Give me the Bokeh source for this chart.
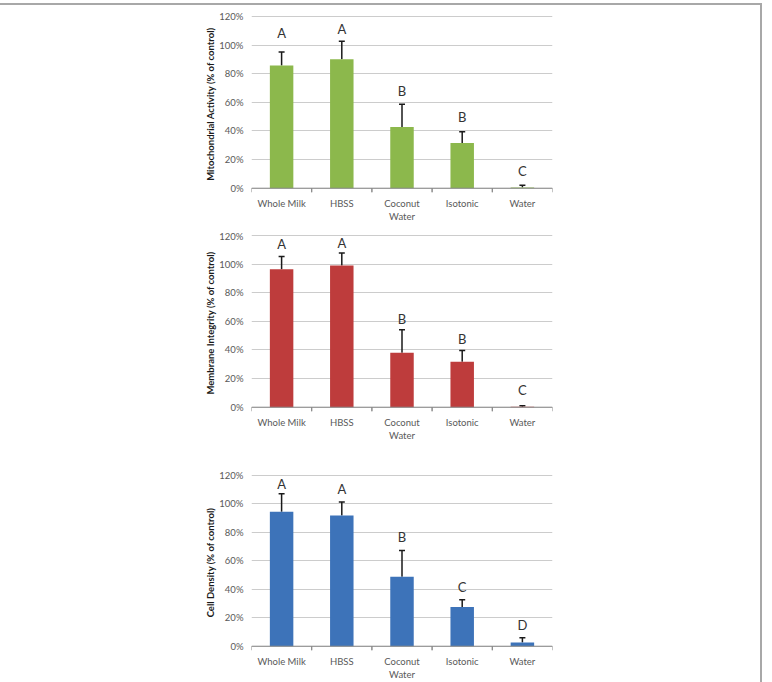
from bokeh.plotting import figure
from bokeh.layouts import column
from bokeh.models import (ColumnDataSource, FixedTicker, PrintfTickFormatter, Range1d,
                          Span, Whisker, TeeHead)
from bokeh.transform import dodge
from bokeh.core.properties import value
from bokeh.embed import file_html
from bokeh.resources import INLINE

categories = ["Whole Milk", "HBSS", "Coconut\nWater", "Isotonic", "Water"]
y_ticks = [0, 20, 40, 60, 80, 100, 120]

# Panel 1: Mitochondrial Activity
mito_mean = [85.6, 90.0, 42.7, 31.6, 0.5]
mito_err = [9.5, 12.7, 15.9, 7.9, 1.5]
mito_letters = ["A", "A", "B", "B", "C"]
mito_letter_y = [108.5, 111.3, 67.9, 50.0, 12.0]

# Panel 2: Membrane Integrity
memb_mean = [96.4, 98.9, 38.0, 31.8, 0.3]
memb_err = [8.8, 8.8, 16.0, 7.8, 0.7]
memb_letters = ["A", "A", "B", "B", "C"]
memb_letter_y = [114.2, 114.7, 61.6, 47.5, 12.3]

# Panel 3: Cell Density
dens_mean = [94.5, 91.8, 48.8, 27.5, 2.6]
dens_err = [12.5, 9.5, 18.5, 5.1, 3.4]
dens_letters = ["A", "A", "B", "C", "D"]
dens_letter_y = [113.8, 110.5, 76.5, 41.4, 14.8]

FONT = "Lato"
AXIS_GRAY = "#8a8a8a"


def make_panel(mean, err, letters, letter_y, color, ylabel, height, top, bottom):
    src = ColumnDataSource(dict(
        cat=categories, mean=mean,
        upper=[m + e for m, e in zip(mean, err)],
        letter=letters, ly=letter_y,
        zero=[0] * len(categories), tick=[-3] * len(categories),
    ))
    p = figure(x_range=categories, y_range=Range1d(-3, 120.6), width=760, height=height,
               output_backend="svg", toolbar_location=None,
               min_border_left=251, min_border_right=208,
               min_border_top=top, min_border_bottom=bottom)
    p.outline_line_color = None
    p.background_fill_color = "white"
    p.border_fill_color = "white"

    p.vbar(x="cat", top="mean", bottom=0, width=0.39, source=src,
           fill_color=color, line_color=None)

    w = Whisker(base="cat", upper="upper", lower="mean", source=src,
                line_color="#1a1a1a", line_width=1.5,
                upper_head=TeeHead(size=6, line_color="#1a1a1a", line_width=1.5),
                lower_head=None)
    p.add_layout(w)

    # category separator ticks below the x axis line
    p.segment(x0=dodge("cat", -0.5, range=p.x_range), y0="zero",
              x1=dodge("cat", -0.5, range=p.x_range), y1="tick",
              source=src, line_color=AXIS_GRAY, line_width=1)
    p.segment(x0=dodge("cat", 0.5, range=p.x_range), y0="zero",
              x1=dodge("cat", 0.5, range=p.x_range), y1="tick",
              source=src, line_color=AXIS_GRAY, line_width=1)

    p.text(x="cat", y="ly", text="letter", source=src, text_align="center",
           text_baseline="middle", text_font=value(FONT), text_font_size="13px",
           text_color="#333333")

    p.add_layout(Span(location=0, dimension="width", line_color=AXIS_GRAY, line_width=1))

    # y axis
    ya = p.yaxis[0]
    ya.ticker = FixedTicker(ticks=y_ticks)
    ya.formatter = PrintfTickFormatter(format="%d%%")
    ya.axis_line_color = None
    ya.major_tick_line_color = None
    ya.minor_tick_line_color = None
    ya.major_tick_out = 0
    ya.major_tick_in = 0
    ya.major_label_standoff = 8
    ya.major_label_text_font = FONT
    ya.major_label_text_font_size = "9.5px"
    ya.major_label_text_color = "#595959"
    ya.axis_label = ylabel
    ya.axis_label_text_font = FONT
    ya.axis_label_text_font_style = "bold"
    ya.axis_label_text_font_size = "9.5px"
    ya.axis_label_text_color = "#1a1a1a"
    ya.axis_label_standoff = 0

    # x axis
    xa = p.xaxis[0]
    xa.axis_line_color = None
    xa.major_tick_line_color = None
    xa.minor_tick_line_color = None
    xa.major_tick_out = 0
    xa.major_tick_in = 0
    xa.major_label_standoff = 5
    xa.major_label_text_font = FONT
    xa.major_label_text_font_size = "9.5px"
    xa.major_label_text_color = "#595959"
    xa.major_label_orientation = "horizontal"

    p.xgrid.grid_line_color = None
    p.ygrid.ticker = FixedTicker(ticks=y_ticks)
    p.ygrid.grid_line_color = "#cccccc"
    p.ygrid.grid_line_width = 1
    return p


p1 = make_panel(mito_mean, mito_err, mito_letters, mito_letter_y, "#8cb84c",
                "Mitochondrial Activity (% of control)", 225, 10, 38)
p2 = make_panel(memb_mean, memb_err, memb_letters, memb_letter_y, "#be3c3c",
                "Membrane Integrity (% of control)", 225, 4, 44)
p3 = make_panel(dens_mean, dens_err, dens_letters, dens_letter_y, "#3d73b9",
                "Cell Density (% of control)", 227, 19, 31)

layout = column(p1, p2, p3, spacing=0,
                styles={"margin-top": "3px", "border-top": "2px solid #a8a8a8",
                        "border-right": "2px solid #a8a8a8"})

open("out.html", "w").write(file_html(layout, INLINE))
